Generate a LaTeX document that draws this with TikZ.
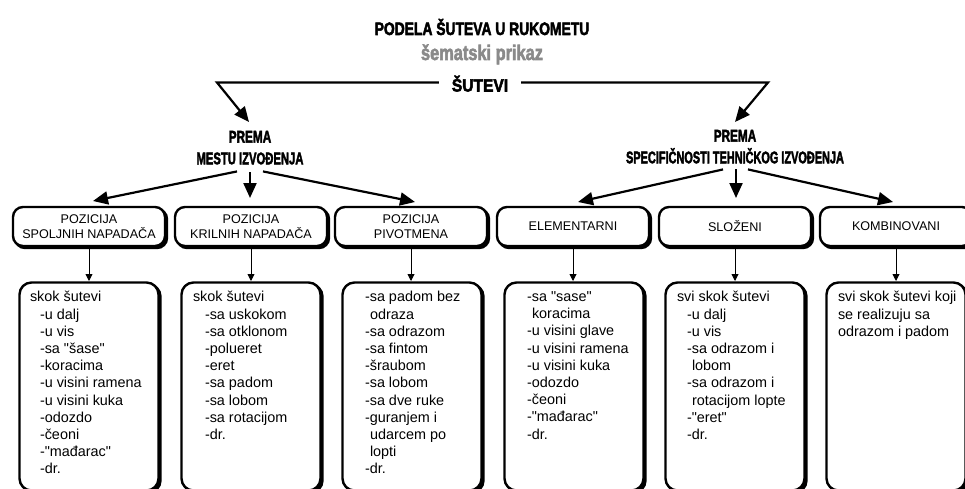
\documentclass[tikz,border=0pt]{standalone}
\usepackage{graphicx}
\usepackage{fontspec}
\setmainfont{Liberation Sans}[Ligatures=TeXOff]
\newfontfamily\impact{Liberation Sans Bold}[FakeBold=3]
\usetikzlibrary{arrows.meta}
\definecolor{subgray}{HTML}{8A8A8A}
\newcommand{\cnd}[2]{\scalebox{#1}[1]{#2}}
\begin{document}
\begin{tikzpicture}[x=1pt,y=-1pt,
  every node/.style={inner sep=0pt,outer sep=0pt},
  hfont/.style={font=\impact\fontsize{16.8}{21.7}\selectfont},
  shadowed/.style={preaction={draw=black,fill=black,line width=2.4pt,transform canvas={xshift=2pt,yshift=-2pt}}},
  topbox/.style={shadowed,draw,line width=2.4pt,rounded corners=10pt,fill=white,
    minimum width=152pt,minimum height=39pt,align=center,font=\fontsize{12.6}{15}\selectfont},
  lowbox/.style={shadowed,draw,line width=2.4pt,rounded corners=12pt,fill=white,
    minimum width=139pt,minimum height=208pt},
  lowtext/.style={anchor=north west,align=left,font=\fontsize{14.4}{17.2}\selectfont},
  bigarrow/.style={line width=2.2pt,-{Triangle[length=15pt,width=13pt]}},
  smallarrow/.style={line width=0.9pt,shorten >=1.5pt,-{Triangle[length=7pt,width=7pt]}}
]
\useasboundingbox[fill=white] (0,0) rectangle (965,489);

% titles
\node[anchor=base,font=\impact\fontsize{18}{22}\selectfont] (title) at (482,35) {\cnd{0.77}{PODELA ŠUTEVA U RUKOMETU}};
\node[anchor=base,font=\impact\fontsize{21}{25}\selectfont,text=subgray] (sub) at (482,60) {\cnd{0.78}{šematski prikaz}};
\node[anchor=base,inner xsep=13pt,font=\impact\fontsize{17.7}{21}\selectfont] (s) at (480,91.5) {\cnd{0.88}{ŠUTEVI}};

% headings
\node[hfont,align=center,anchor=north] (p1) at (250,131) {\cnd{0.7}{PREMA}\\\cnd{0.67}{MESTU IZVOĐENJA}};
\node[hfont,align=center,anchor=north] (p2) at (735,130) {\cnd{0.7}{PREMA}\\\cnd{0.65}{SPECIFIČNOSTI TEHNIČKOG IZVOĐENJA}};

\coordinate (c1) at (217,82.5);
\coordinate (c2) at (768,82.5);
\draw[bigarrow] (s.west |- 0,82.5) -- (c1) -- ([xshift=-1pt,yshift=9pt]p1.north);
\draw[bigarrow] (s.east |- 0,82.5) -- (c2) -- ([yshift=8pt]p2.north);

% upper boxes
\node[topbox] (b1) at (89,226.5) {POZICIJA\\SPOLJNIH NAPADAČA};
\node[topbox] (b2) at (251,226.5) {POZICIJA\\KRILNIH NAPADAČA};
\node[topbox] (b3) at (411,226.5) {POZICIJA\\PIVOTMENA};
\node[topbox] (b4) at (573,226.5) {ELEMENTARNI};
\node[topbox] (b5) at (735,226.5) {SLOŽENI};
\node[topbox] (b6) at (896,226.5) {KOMBINOVANI};

% arrows from headings
\draw[bigarrow] ([xshift=-13pt,yshift=-7pt]p1.south) -- ([xshift=4pt,yshift=6pt]b1.north);
\draw[bigarrow] ([yshift=-8pt]p1.south) -- ([xshift=-1pt,yshift=9pt]b2.north);
\draw[bigarrow] ([xshift=13pt,yshift=-7pt]p1.south) -- ([xshift=4pt,yshift=5pt]b3.north);
\draw[bigarrow] ([xshift=-12pt,yshift=-6pt]p2.south) -- ([xshift=5pt,yshift=5pt]b4.north);
\draw[bigarrow] ([xshift=1pt,yshift=-6pt]p2.south) -- ([xshift=1pt,yshift=9pt]b5.north);
\draw[bigarrow] ([xshift=13pt,yshift=-6pt]p2.south) -- ([xshift=-3pt,yshift=5pt]b6.north);

% lower boxes
\node[lowbox] (l1) at (89,386.5) {};
\node[lowbox] (l2) at (251,386.5) {};
\node[lowbox] (l3) at (412,386.5) {};
\node[lowbox] (l4) at (574,386.5) {};
\node[lowbox] (l5) at (735,386.5) {};
\node[lowbox] (l6) at (896,386.5) {};

\foreach \i in {1,...,6} {\draw[smallarrow] (b\i.south) -- (b\i.south |- l\i.north);}

% lower texts
\node[lowtext] (t1) at (30,291.5) {skok šutevi\\
 \hspace*{10pt}-u dalj\\ \hspace*{10pt}-u vis\\ \hspace*{10pt}-sa "šase"\\ \hspace*{10pt}-koracima\\
 \hspace*{10pt}-u visini ramena\\ \hspace*{10pt}-u visini kuka\\ \hspace*{10pt}-odozdo\\
 \hspace*{10pt}-čeoni\\ \hspace*{10pt}-"mađarac"\\ \hspace*{10pt}-dr.};
\node[lowtext] (t2) at (193,291.5) {skok šutevi\\
 \hspace*{12pt}-sa uskokom\\ \hspace*{12pt}-sa otklonom\\ \hspace*{12pt}-polueret\\ \hspace*{12pt}-eret\\
 \hspace*{12pt}-sa padom\\ \hspace*{12pt}-sa lobom\\ \hspace*{12pt}-sa rotacijom\\ \hspace*{12pt}-dr.};
\node[lowtext] (t3) at (365,291.5) {-sa padom bez\\ \hspace*{5pt}odraza\\ -sa odrazom\\ -sa fintom\\ -šraubom\\
 -sa lobom\\ -sa dve ruke\\ -guranjem i\\ \hspace*{5pt}udarcem po\\ \hspace*{5pt}lopti\\ -dr.};
\node[lowtext] (t4) at (527,291.5) {-sa "sase"\\ \hspace*{5pt}koracima\\ -u visini glave\\ -u visini ramena\\
 -u visini kuka\\ -odozdo\\ -čeoni\\ -"mađarac"\\ -dr.};
\node[lowtext] (t5) at (677,291.5) {svi skok šutevi\\
 \hspace*{10pt}-u dalj\\ \hspace*{10pt}-u vis\\ \hspace*{10pt}-sa odrazom i\\ \hspace*{15pt}lobom\\
 \hspace*{10pt}-sa odrazom i\\ \hspace*{15pt}rotacijom lopte\\ \hspace*{10pt}-"eret"\\ \hspace*{10pt}-dr.};
\node[lowtext] (t6) at (838,291.5) {svi skok šutevi koji\\ se realizuju sa\\ odrazom i padom};
\end{tikzpicture}
\end{document}
